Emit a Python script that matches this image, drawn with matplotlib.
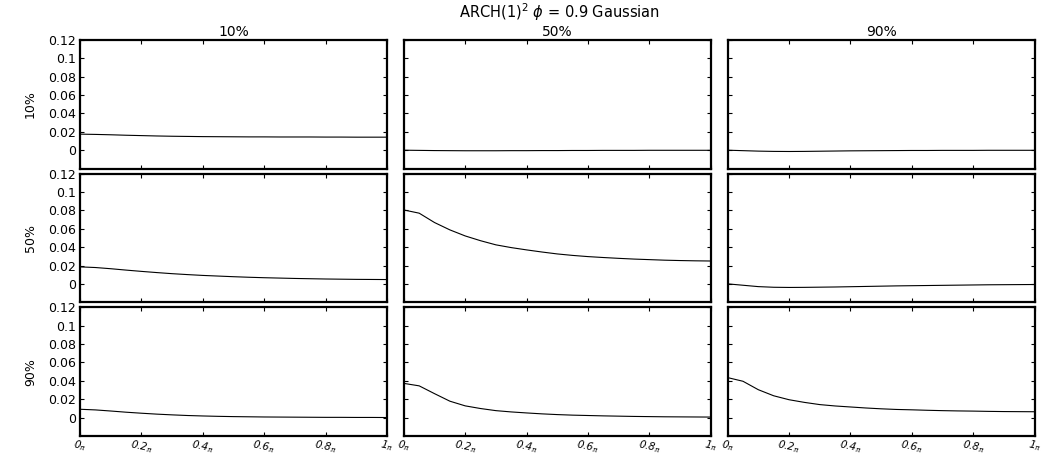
import numpy as np
import matplotlib
matplotlib.use("Agg")
import matplotlib.pyplot as plt

plt.rcParams['font.family'] = ['DejaVu Sans']

# frequency grid (fractions of pi)
freq = [0.0, 0.05, 0.1, 0.15, 0.2, 0.25, 0.3, 0.35, 0.4, 0.45, 0.5,
        0.55, 0.6, 0.65, 0.7, 0.75, 0.8, 0.85, 0.9, 0.95, 1.0]

quantiles = ['10%', '50%', '90%']

# rows = first quantile, cols = second quantile
q10_q10 = [0.0175, 0.0172, 0.0168, 0.0163, 0.0159, 0.0155, 0.0152, 0.0150, 0.0148, 0.0147, 0.0146,
           0.0145, 0.0145, 0.0144, 0.0144, 0.0144, 0.0143, 0.0143, 0.0142, 0.0142, 0.0142]
q10_q50 = [0.0, -0.0002, -0.0004, -0.0005, -0.0006, -0.0006, -0.0006, -0.0005, -0.0005, -0.0004, -0.0004,
           -0.0003, -0.0003, -0.0002, -0.0002, -0.0002, -0.0001, -0.0001, -0.0001, -0.0001, -0.0001]
q10_q90 = [0.0, -0.0005, -0.0010, -0.0013, -0.0014, -0.0013, -0.0011, -0.0009, -0.0007, -0.0006, -0.0005,
           -0.0004, -0.0003, -0.0003, -0.0002, -0.0002, -0.0002, -0.0001, -0.0001, -0.0001, -0.0001]
q50_q10 = [0.0185, 0.0178, 0.0165, 0.0150, 0.0136, 0.0123, 0.0111, 0.0101, 0.0092, 0.0085, 0.0078,
           0.0072, 0.0067, 0.0063, 0.0059, 0.0056, 0.0053, 0.0051, 0.0049, 0.0048, 0.0047]
q50_q50 = [0.0805, 0.0770, 0.0668, 0.0588, 0.0522, 0.0470, 0.0425, 0.0395, 0.0370, 0.0347, 0.0326,
           0.0310, 0.0297, 0.0287, 0.0278, 0.0270, 0.0264, 0.0258, 0.0254, 0.0251, 0.0249]
q50_q90 = [0.0, -0.0015, -0.0030, -0.0037, -0.0039, -0.0038, -0.0036, -0.0034, -0.0031, -0.0028, -0.0025,
           -0.0022, -0.0020, -0.0018, -0.0016, -0.0014, -0.0012, -0.0010, -0.0009, -0.0008, -0.0007]
q90_q10 = [0.0090, 0.0083, 0.0071, 0.0058, 0.0047, 0.0037, 0.0029, 0.0022, 0.0017, 0.0013, 0.0010,
           0.0008, 0.0006, 0.0005, 0.0004, 0.0003, 0.0002, 0.0002, 0.0001, 0.0001, 0.0]
q90_q50 = [0.0372, 0.0345, 0.0260, 0.0178, 0.0127, 0.0098, 0.0075, 0.0061, 0.0050, 0.0040, 0.0032,
           0.0026, 0.0022, 0.0018, 0.0015, 0.0012, 0.0010, 0.0008, 0.0007, 0.0006, 0.0005]
q90_q90 = [0.0435, 0.0395, 0.0303, 0.0237, 0.0194, 0.0165, 0.0141, 0.0126, 0.0115, 0.0104, 0.0095,
           0.0088, 0.0084, 0.0079, 0.0075, 0.0072, 0.0070, 0.0067, 0.0065, 0.0064, 0.0063]

grid = [[q10_q10, q10_q50, q10_q90],
        [q50_q10, q50_q50, q50_q90],
        [q90_q10, q90_q50, q90_q90]]

yticks = [0, 0.02, 0.04, 0.06, 0.08, 0.1, 0.12]
xticks = [0, 0.2, 0.4, 0.6, 0.8, 1.0]
xticklabels = [r'0$_\pi$', r'0.2$_\pi$', r'0.4$_\pi$', r'0.6$_\pi$', r'0.8$_\pi$', r'1$_\pi$']

fig, axes = plt.subplots(3, 3, figsize=(10.45, 4.55), dpi=100)
fig.subplots_adjust(left=0.0766, right=0.990, top=0.912, bottom=0.042,
                    wspace=0.055, hspace=0.04)

for i in range(3):
    for j in range(3):
        ax = axes[i, j]
        ax.plot(freq, grid[i][j], color='black', lw=0.8)
        ax.set_xlim(0, 1)
        ax.set_ylim(-0.02, 0.12)
        ax.set_yticks(yticks)
        ax.set_xticks(xticks)
        ax.tick_params(direction='in', top=True, right=True, length=3, width=0.8,
                       labelsize=9, pad=3)
        ax.tick_params(axis='x', pad=1.5)
        for s in ax.spines.values():
            s.set_linewidth(1.6)
        if j == 0:
            ax.set_yticklabels(['%g' % t for t in yticks])
            ax.set_ylabel(quantiles[i], fontsize=9, labelpad=8)
        else:
            ax.set_yticklabels([])
        if i == 2:
            ax.set_xticklabels(xticklabels, rotation=-12, style='italic',
                               fontsize=7.5, ha='center')
        else:
            ax.set_xticklabels([])
        if i == 0:
            ax.set_title(quantiles[j], fontsize=10, pad=3)

fig.text(0.535, 0.973, r'ARCH(1)$^2$ $\phi$ = 0.9 Gaussian', ha='center', va='center',
         fontsize=10.5)

plt.savefig('out.png', dpi=100)
